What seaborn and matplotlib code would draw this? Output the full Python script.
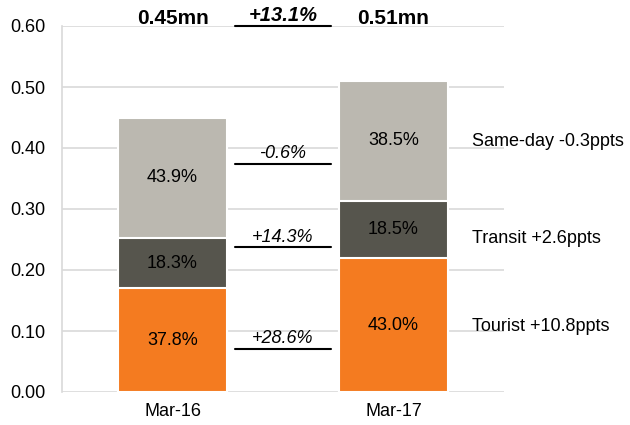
import numpy as np
import pandas as pd
import matplotlib
matplotlib.use("Agg")
import matplotlib.pyplot as plt
import seaborn as sns

# Data (mn visitors)
months = ["Mar-16", "Mar-17"]
tourist = [0.170, 0.219]
transit = [0.082, 0.094]
same_day = [0.198, 0.197]

tourist_share = ["37.8%", "43.0%"]
transit_share = ["18.3%", "18.5%"]
same_day_share = ["43.9%", "38.5%"]

total_labels = ["0.45mn", "0.51mn"]
total_growth = "+13.1%"
segment_growth = ["+28.6%", "+14.3%", "-0.6%"]
segment_names = ["Tourist +10.8ppts", "Transit +2.6ppts", "Same-day -0.3ppts"]

orange = "#F47B20"
dark = "#56554D"
light = "#BBB8B0"
grid_col = "#D9D9D9"

sns.set_theme(style="white")
plt.rcParams["font.family"] = ["Liberation Sans", "DejaVu Sans"]
plt.rcParams["text.color"] = "black"

df = pd.DataFrame({"Month": months, "Tourist": tourist,
                   "Transit": transit, "Same-day": same_day})
df["c1"] = df["Tourist"]
df["c2"] = df["c1"] + df["Transit"]
df["c3"] = df["c2"] + df["Same-day"]

fig = plt.figure(figsize=(6.3, 4.25), dpi=100)
ax = fig.add_axes([62 / 630, 33 / 425, 442 / 630, 366 / 425])

# stacked bars: draw cumulative totals from top to bottom
for col, c in [("c3", light), ("c2", dark), ("c1", orange)]:
    sns.barplot(data=df, x="Month", y=col, color=c, saturation=1, width=0.49,
                edgecolor="white", linewidth=1.5, ax=ax, zorder=3)

ax.set_xlim(-0.5, 1.5)
ax.set_ylim(0, 0.60)
ax.set_yticks(np.arange(0, 0.61, 0.1))
ax.set_yticklabels([f"{v:.2f}" for v in np.arange(0, 0.61, 0.1)])
ax.yaxis.grid(True, color=grid_col, linewidth=1.2, zorder=0)
ax.set_axisbelow(True)
ax.set_xlabel("")
ax.set_ylabel("")
for s in ["top", "right", "bottom"]:
    ax.spines[s].set_visible(False)
ax.spines["left"].set_color(grid_col)
ax.spines["left"].set_linewidth(1.2)
ax.tick_params(axis="both", length=0, labelsize=13, colors="black")
ax.tick_params(axis="x", pad=8)
ax.tick_params(axis="y", pad=12)

fs = 13
# segment share labels
for i in range(2):
    ax.text(i, df["c1"][i] / 2, tourist_share[i], ha="center", va="center", fontsize=fs)
    ax.text(i, (df["c1"][i] + df["c2"][i]) / 2, transit_share[i], ha="center", va="center", fontsize=fs)
    ax.text(i, (df["c2"][i] + df["c3"][i]) / 2, same_day_share[i], ha="center", va="center", fontsize=fs)
    ax.text(i, 0.613, total_labels[i], ha="center", va="center", fontsize=15,
            fontweight="bold", clip_on=False)

# growth labels between bars with underline
line_y = [0.0705, 0.237, 0.374]
for g, y in zip(segment_growth, line_y):
    ax.plot([0.285, 0.715], [y, y], color="black", linewidth=1.5, zorder=4)
    ax.text(0.5, y + 0.003, g, ha="center", va="bottom", fontsize=fs, style="italic")
ax.plot([0.285, 0.715], [0.60, 0.60], color="black", linewidth=1.5, zorder=4, clip_on=False)
ax.text(0.5, 0.602, total_growth, ha="center", va="bottom", fontsize=14.5,
        style="italic", fontweight="bold", clip_on=False)

# right-hand segment names
name_y = [0.108, 0.252, 0.411]
for n, y in zip(segment_names, name_y):
    ax.text(1.355, y, n, ha="left", va="center", fontsize=fs, clip_on=False)

fig.savefig("out.png", dpi=100)
